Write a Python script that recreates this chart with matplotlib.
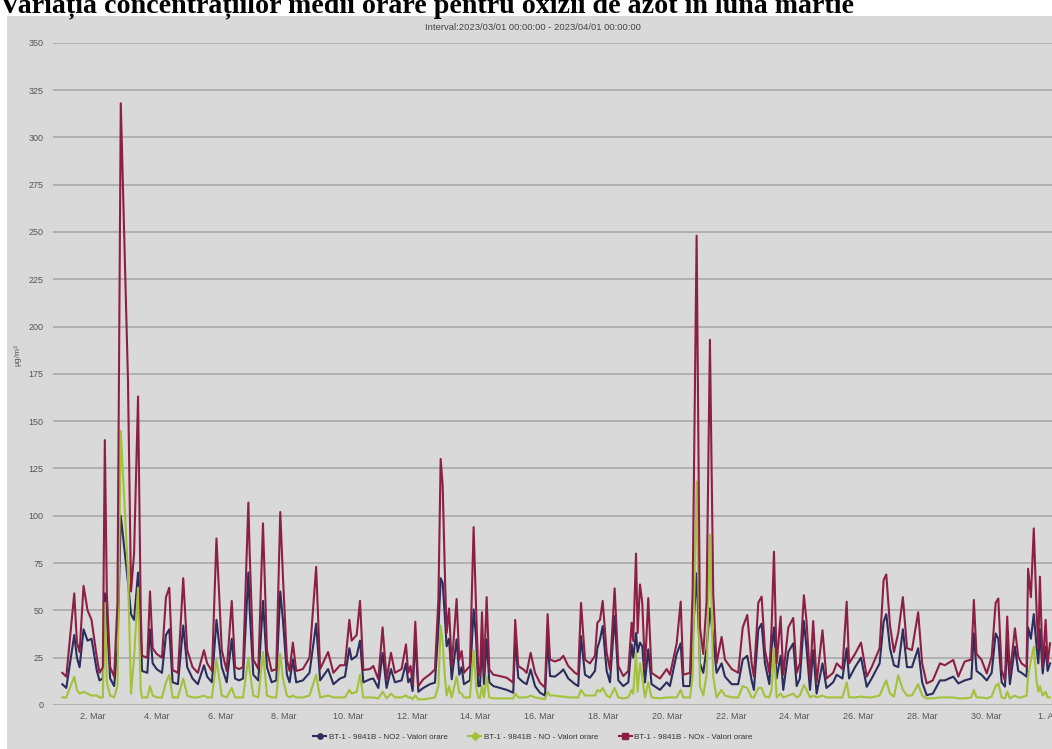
import matplotlib
matplotlib.use("Agg")
import matplotlib.pyplot as plt
from matplotlib.lines import Line2D
from matplotlib.patches import Rectangle

# hours since 2023-03-01 00:00, values in ug/m3
hours = [1, 4, 10, 12, 14, 17, 20, 23, 27, 29, 31.5, 33, 34.5, 37, 40, 42.5, 45, 50.4, 52.7, 55,
         58, 60, 61, 65, 67, 69, 72, 76, 79, 81.5, 84, 88, 92, 95, 99, 103, 107.6, 110, 113.6, 117,
         121, 124.7, 128.5, 131, 134, 137, 141, 142, 144.7, 148.5, 152, 155, 158.5, 162, 165, 167, 170, 172, 174.5, 177,
         182, 187, 192, 195, 201, 205, 210, 213.7, 217, 218.7, 222.5, 225, 227.5, 232.5, 235, 238.8, 242, 245, 248.3, 251.3,
         256.3, 259.6, 261.3, 263, 264.6, 266.6, 268.9, 272.6, 277.6, 281.4, 284, 285.7, 287.2, 289, 290.2, 292, 294, 297.7, 299.7, 301.5,
         303.2, 307.7, 310.5, 312.3, 314, 315.3, 316.8, 318.3, 320.3, 322.3, 325.3, 330.3, 335.4, 340.3, 341.8, 344.1, 347.9, 350.4, 353.4, 356.7,
         360.4, 364.2, 366.2, 368, 371.7, 375.5, 378, 381.7, 386.8, 389.2, 391.3, 394.3, 398, 401.8, 403.6, 405.6, 407.6, 410.6, 413.1, 416.6,
         419.4, 423.1, 426.9, 429.4, 430.6, 432.7, 433.9, 435.7, 437.4, 439.4, 441.9, 444.4, 450.7, 455.8, 458.2, 463.3, 466.3, 468.3, 473.3, 475.3,
         478.3, 480.8, 483.3, 485.8, 488.3, 490.8, 493.3, 497.1, 499.6, 504.7, 509.6, 513, 516.4, 519.7, 521.4, 524.7, 527.2, 529.7, 533, 534.7,
         536.5, 538.5, 541.5, 543.5, 547.3, 551, 553.6, 556, 559, 561, 563.6, 566, 568.6, 573, 576, 581, 583.7, 588, 591.2, 593,
         597.5, 602, 606.3, 610, 616, 619, 621, 623.8, 626.8, 630, 633.5, 636.6, 640.3, 645, 648, 651.4, 656, 661.4, 665, 671.4,
         675.2, 680, 685, 686.9, 688.9, 692.6, 696.6, 700.3, 703.3, 705.3, 707.8, 710.3, 712, 714, 717.8, 720.3, 722.8, 726.6, 727.7, 729.8,
         732, 734.2, 735.4, 736.6, 738.7, 740.9, 742.4, 744.2]

nox = [17, 15, 59, 33, 28, 63, 50, 45, 25, 17, 20, 140, 59, 20, 15, 54, 318, 172, 60, 80,
       163, 50, 26, 25, 60, 30, 27, 25, 57, 62, 18.5, 17, 67, 29, 20, 17, 29, 22, 18, 88,
       29, 18, 55, 20, 19, 20, 107, 80, 24, 19, 96, 29, 18, 19, 102, 68, 24, 18, 33, 18,
       19, 25, 73, 19, 28, 17, 21, 21, 45, 34, 37, 55, 18.5, 19, 20.6, 13.6, 41, 13.6, 27.6, 17,
       19, 32, 17, 20.6, 11, 44, 10, 13.6, 16.2, 18.8, 56, 130, 116, 66, 38, 51, 20.6, 56, 24, 28.5,
       17, 20.6, 94, 52, 17, 15.5, 49, 17, 57, 18.8, 16, 15.3, 14.4, 11.8, 45, 20.6, 18.8, 17, 27.6, 17,
       11.8, 9.2, 48, 24, 23, 24, 26, 20.6, 17, 16, 54, 24, 22, 26, 43.5, 45, 55, 27.6, 18.8, 61.6,
       20.6, 15.3, 18, 43.5, 33.8, 80, 38, 63.7, 54, 18.8, 56.5, 17, 14, 19, 16, 32.6, 54.6, 16, 17, 60,
       248, 41, 27, 55, 193, 58.7, 22, 36, 24, 19, 17, 41, 47.6, 22, 15, 54, 57.3, 29, 17, 40.5,
       81, 22, 46.8, 16, 41, 46, 17, 22, 58, 44.4, 14, 44.4, 12, 39.5, 14, 17, 22, 19, 54.6, 22,
       27, 33, 15, 20, 30, 66, 69, 42, 28, 38, 57, 30, 29, 49, 22, 11.4, 13, 22, 21, 23.8,
       15, 23, 24, 55.5, 27, 24, 16.7, 25.5, 54, 56.3, 18.5, 13, 46.7, 16, 40.5, 25.5, 22, 20, 72, 57,
       93.3, 48, 30, 67.8, 20, 45, 22, 32.6]

no2 = [11, 9, 37, 25, 20, 40, 34, 35, 18, 13, 14, 59, 45, 14, 10, 30, 100, 65, 48, 45,
       70, 38, 18, 17, 40, 22, 19, 17, 37, 40, 12, 11, 42, 20, 14, 11, 21, 15, 12, 45,
       20, 12, 35, 14, 13, 14, 70, 50, 16, 13, 55, 20, 12, 13, 60, 45, 16, 12, 24, 12,
       13, 17, 43, 13, 19, 11, 14, 15, 30, 24, 26, 34, 12, 13.6, 14, 9, 27.6, 9, 19, 12,
       13, 22, 12, 14, 7.4, 34.7, 7, 9, 11, 11.8, 40, 67, 64.6, 45, 31, 35, 13.6, 34.7, 16, 20,
       11, 13, 50.5, 36, 10, 10, 32, 11, 34.7, 12, 10, 9, 8, 6.5, 34.7, 14.4, 12, 11, 18.8, 10,
       6.5, 5, 34.7, 15.3, 15, 17, 18.8, 14, 11, 10, 36.4, 16, 14.4, 18, 30, 34.7, 41.7, 18, 12, 47,
       13, 10, 12, 32, 25, 38, 28, 33, 31, 12, 29.4, 11, 8, 12, 10, 27, 32.6, 10, 10, 35,
       69.6, 22, 17, 30, 51, 35, 17, 22, 15, 11, 11, 24, 26, 13, 8, 40, 43, 22, 11, 30,
       41, 14, 26, 8, 28, 32.6, 10, 14, 44.4, 30, 8, 29, 6, 22, 9, 12, 16, 14, 30, 14,
       20, 25, 9.6, 14, 22, 44, 48, 30, 21, 20, 40, 20, 20, 30, 12, 5.2, 6, 13, 13, 15,
       11.4, 13, 14, 37.8, 18, 16, 13, 17, 37.8, 35, 12, 9.7, 32.6, 11, 30.8, 18, 17, 15, 41, 35,
       48, 30, 22, 40, 16.7, 30.8, 18, 22]

no = [4, 4, 15, 8, 6, 7, 6, 5, 5, 4, 4, 54, 12, 5, 4, 10, 145, 70, 6, 25,
      62, 8, 4, 4, 10, 5, 4, 4, 12, 16, 4, 4, 14, 5, 4, 4, 5, 4, 4, 24,
      5, 4, 9, 4, 4, 4, 25, 18, 5, 4, 28, 5, 4, 4, 27, 14, 5, 4, 5, 4,
      4, 5, 16, 4, 5, 4, 4, 4, 8, 6, 7, 16, 4, 4, 4, 3.5, 7, 3.5, 6, 4,
      4, 5, 4, 4, 3, 5, 3, 3, 3.5, 4, 10, 42, 33, 14, 5, 10, 4, 15, 6.5, 6,
      4, 4, 29, 10, 4, 3.5, 10, 4, 15, 4, 3.5, 3.5, 3.5, 3.5, 6, 4, 4, 4, 5, 4,
      3.5, 3, 7, 5, 5, 4.5, 4.5, 4, 4, 4, 8, 5, 5, 5, 8, 7, 9, 5, 4, 9,
      4, 3.5, 4, 8, 6, 27.6, 7, 22, 15, 4, 12, 4, 3.5, 4, 4, 4, 8, 4, 4, 15,
      118, 10, 5, 16, 90, 15, 4, 8, 5, 4, 4, 10, 9, 4, 4, 9, 9, 4.5, 4, 8,
      30, 4, 6, 4, 5, 6, 4, 5, 10.5, 8, 4, 5, 4, 5, 4, 4, 4, 4, 12, 4,
      4, 4.5, 4, 4, 5, 10, 13, 6, 4.5, 15.7, 8, 5, 5, 11, 5, 3.5, 3.5, 4, 4, 4,
      3.5, 3.5, 4, 8, 4, 4, 3.5, 4.5, 10, 11.4, 4, 3.5, 7, 3.5, 5, 4, 4, 5, 15, 23.6,
      30.8, 12, 7, 10, 5, 7, 4, 4]

tick_hours = [24, 72, 120, 168, 216, 264, 312, 360, 408, 456, 504, 552, 600, 648, 696, 744]
tick_labels = ["2. Mar", "4. Mar", "6. Mar", "8. Mar", "10. Mar", "12. Mar", "14. Mar", "16. Mar",
               "18. Mar", "20. Mar", "22. Mar", "24. Mar", "26. Mar", "28. Mar", "30. Mar", "1. Apr"]
y_ticks = [0, 25, 50, 75, 100, 125, 150, 175, 200, 225, 250, 275, 300, 325, 350]

series_names = ["BT-1 - 9841B - NO2 - Valori orare",
                "BT-1 - 9841B - NO - Valori orare",
                "BT-1 - 9841B - NOx - Valori orare"]
colors = ["#2b2d5c", "#a3c13a", "#8c1f43"]
markers = ["o", "D", "s"]

W, H = 1052, 749
fig = plt.figure(figsize=(W / 100, H / 100), dpi=100)
fig.patch.set_facecolor("white")

# gray chart panel under the title
fig.patches.append(Rectangle((7 / W, 0), 1, (H - 16) / H, transform=fig.transFigure,
                             facecolor="#d9d9d9", edgecolor="none", zorder=-5))

fig.text(0, 1 - 12 / H, "Variația concentrațiilor medii orare pentru oxizii de azot în luna martie",
         family="Liberation Serif", weight="bold", fontsize=20.2, va="baseline", ha="left",
         zorder=6)
fig.text(533 / W, 1 - 28 / H, "Interval:2023/03/01 00:00:00 - 2023/04/01 00:00:00",
         family="Liberation Sans", fontsize=6.8, color="#444444", ha="center", va="center")
fig.text(18 / W, 1 - 355 / H, "µg/m³", family="Liberation Sans", fontsize=6,
         color="#555555", rotation=90, ha="center", va="center")

ax = fig.add_axes([53 / W, (H - 705) / H, (W - 53) / W, (705 - 42.7) / H])
ax.set_facecolor("none")

ax.plot(hours, no2, color=colors[0], lw=1.5, zorder=3)
ax.plot(hours, no, color=colors[1], lw=1.5, zorder=4)
ax.plot(hours, nox, color=colors[2], lw=1.5, zorder=5)

ax.set_xlim(-6, 745.7)
ax.set_ylim(0, 350)
ax.set_yticks(y_ticks)
ax.set_xticks(tick_hours)
ax.set_xticklabels(tick_labels)
ax.yaxis.grid(True, color="#a8a8a8", lw=1.2)
ax.set_axisbelow(True)
for s in ax.spines.values():
    s.set_visible(False)
ax.tick_params(axis="both", length=0, labelsize=6.5, labelcolor="#555555")
ax.tick_params(axis="y", pad=7)
ax.tick_params(axis="x", pad=5)
for lab in ax.get_xticklabels() + ax.get_yticklabels():
    lab.set_family("Liberation Sans")

handles = [Line2D([0], [0], color=c, lw=1.5, marker=m, markersize=3.8)
           for c, m in zip(colors, markers)]
leg = fig.legend(handles, series_names, loc="center", bbox_to_anchor=(533 / W, 1 - 737 / H),
                 ncol=3, frameon=False, prop={"family": "Liberation Sans", "size": 5.8},
                 handlelength=1.6, handletextpad=0.3, columnspacing=2.6)
for t in leg.get_texts():
    t.set_color("#333333")

fig.savefig("out.png", dpi=100)
